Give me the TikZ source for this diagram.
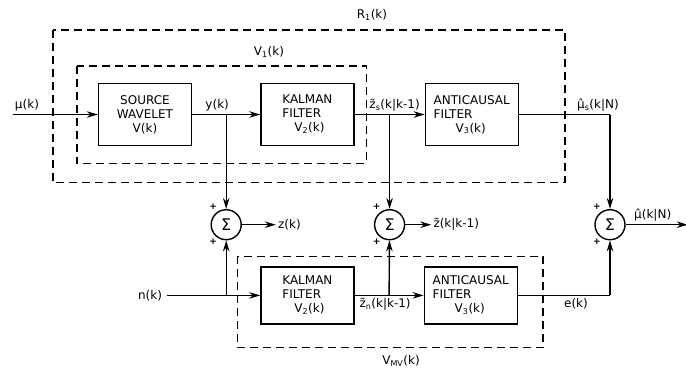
\documentclass[tikz,border=0pt]{standalone}
\usepackage{fontspec}
\setmainfont{DejaVu Sans}
\usepackage{tikz}
\usetikzlibrary{arrows.meta, positioning, calc}
\newcommand{\lettering}{\fontsize{12}{14}\selectfont}
\tikzset{
  block/.style={rectangle, draw, minimum width=93pt, minimum height=62pt,
    inner sep=2pt, font=\lettering, line width=1.4pt},
  lowblock/.style={block, minimum height=57pt},
  sumnode/.style={circle, draw, minimum size=30pt, inner sep=0pt,
    font=\fontsize{16}{16}\selectfont, line width=1.4pt},
  lbl/.style={inner sep=2pt, font=\lettering},
  plussign/.style={inner sep=0pt, font=\fontsize{9}{9}\selectfont\bfseries},
  arrow/.style={-{Stealth[length=11pt, width=6.5pt]}, line width=1.4pt},
  line/.style={line width=1.4pt},
  dashbox/.style={line width=1.4pt, dash pattern=on 8pt off 5pt}
}

\begin{document}
\begin{tikzpicture}[x=1pt, y=1pt]
  \useasboundingbox (0,0) rectangle (686,-376);
  % upper chain
  \node[block, align=center] (src) at (145,-114.5) {SOURCE\\WAVELET\\V(k)};
  \node[block, align=left, right=68pt of src] (kal1) {KALMAN\\FILTER\\\hspace{12pt}V\textsubscript{2}(k)};
  \node[block, align=left, right=70pt of kal1] (ac1) {ANTICAUSAL\\FILTER\\\hspace{22pt}V\textsubscript{3}(k)};
  % lower chain
  \node[lowblock, align=left, below=120pt of kal1] (kal2) {KALMAN\\FILTER\\\hspace{12pt}V\textsubscript{2}(k)};
  \node[lowblock, align=left, right=69pt of kal2] (ac2) {ANTICAUSAL\\FILTER\\\hspace{22pt}V\textsubscript{3}(k)};

  \coordinate (uin) at ([xshift=-85pt]src.west);
  \coordinate (ytap) at ($(src.east)!0.5!(kal1.west)$);
  \coordinate (zstap) at ($(kal1.east)!0.5!(ac1.west)$);
  \coordinate (mstap) at ([xshift=91pt]ac1.east);

  % summing junctions
  \node[sumnode, below=94.5pt of ytap] (s1) {Σ};
  \node[sumnode, below=94.5pt of zstap] (s2) {Σ};
  \node[sumnode, below=94.5pt of mstap] (s3) {Σ};
  \foreach \s in {s1,s2,s3} {
    \node[plussign] (\s-pa) at ([shift={(-13pt,18pt)}]\s.center) {+};
    \node[plussign] (\s-pb) at ([shift={(-13pt,-17pt)}]\s.center) {+};
  }

  \coordinate (nin) at ([xshift=-93pt]kal2.west);
  \coordinate (njunc) at (ytap |- kal2.west);
  \coordinate (zntap) at ($(kal2.east)!0.5!(ac2.west)$);
  \coordinate (ecorner) at (s3 |- ac2.east);
  \coordinate (uout) at ([xshift=62pt]s3.east);

  % dashed subsystems
  \draw[dashbox] ([shift={(-45pt,53pt)}]src.north west) rectangle ([shift={(46pt,-36pt)}]ac1.south east);
  \draw[dashbox] ([shift={(-21pt,17pt)}]src.north west) rectangle ([shift={(12pt,-17pt)}]kal1.south east);
  \draw[dashbox] ([shift={(-23pt,10pt)}]kal2.north west) rectangle ([shift={(25pt,-23pt)}]ac2.south east);
  \node[lbl] (r1lab) at (372,-15) {R\textsubscript{1}(k)};
  \node[lbl] (v1lab) at (269,-52) {V\textsubscript{1}(k)};
  \node[lbl] (vmvlab) at (401,-361) {V\textsubscript{MV}(k)};

  % signal labels
  \node[lbl, above right=1pt and 0pt of uin] (ulab) {μ(k)};
  \node[lbl, above=1pt of ytap, xshift=-9pt] (ylab) {y(k)};
  \node[lbl, above=1pt of zstap, xshift=5pt] (zslab) {z̃\textsubscript{s}(k|k-1)};
  \node[lbl, above=1pt of mstap, xshift=-12pt] (mslab) {μ̂\textsubscript{s}(k|N)};
  \node[lbl, right=34pt of s1] (zlab) {z(k)};
  \node[lbl, right=26pt of s2] (zklab) {z̃(k|k-1)};
  \node[lbl, left=3pt of nin] (nlab) {n(k)};
  \node[lbl, below=1pt of zntap, xshift=-4pt] (znlab) {z̃\textsubscript{n}(k|k-1)};
  \node[lbl, below=1pt of ecorner, xshift=-34pt] (elab) {e(k)};
  \node[lbl, above=1pt of s3.east, xshift=27pt] (mlab) {μ̂(k|N)};

  % connectors
  \draw[arrow] (uin) -- (src);
  \draw[arrow] (src) -- (kal1);
  \draw[arrow] (kal1) -- (ac1);
  \draw[line] (ac1) -- (mstap);
  \draw[arrow] (mstap) -- (s3);
  \draw[arrow] (ytap) -- (s1);
  \draw[arrow] (zstap) -- (s2);
  \draw[arrow] (nin) -- (kal2);
  \draw[arrow] (njunc) -- (s1);
  \draw[arrow] (kal2) -- (ac2);
  \draw[arrow] (zntap) -- (s2);
  \draw[line] (ac2) -- (ecorner);
  \draw[arrow] (ecorner) -- (s3);
  \draw[arrow] (s1) -- (zlab);
  \draw[arrow] (s2) -- (zklab);
  \draw[arrow] (s3) -- (uout);
\end{tikzpicture}
\end{document}
